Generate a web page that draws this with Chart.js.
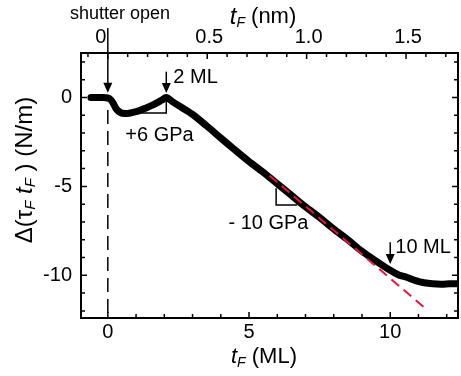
<!DOCTYPE html>
<html>
<head>
<meta charset="utf-8">
<script src="https://cdn.jsdelivr.net/npm/chart.js@4.4.0/dist/chart.umd.min.js"></script>
<style>
  html, body { margin: 0; padding: 0; background: #fff; }
  #wrap { width: 461px; height: 376px; }
</style>
</head>
<body>
<div id="wrap"><canvas id="stressChart"></canvas></div>
<script>
// ===== Datos =====
// espesor de la película (ML) y Δ(τF·tF) en N/m
const tfML = [-0.6, -0.4, -0.2, 0, 0.1, 0.2, 0.3, 0.45, 0.6, 0.8, 1.0, 1.15, 1.3, 1.6, 1.9, 2.07,
    2.3, 2.6, 3.0, 3.5, 4.0, 4.5, 5.0, 5.5, 6.0, 6.5, 7.0, 7.5, 8.0, 8.5, 9.0, 9.5,
    10.0, 10.3, 10.6, 10.9, 11.2, 11.5, 11.8, 12.1, 12.4];
const stressNm = [0, 0, 0, -0.03, -0.12, -0.35, -0.65, -0.85, -0.9, -0.87, -0.8, -0.72, -0.62, -0.42, -0.16, 0,
    -0.25, -0.55, -0.95, -1.6, -2.28, -2.95, -3.6, -4.2, -4.85, -5.5, -6.15, -6.75, -7.4, -8.0, -8.65, -9.2,
    -9.72, -9.98, -10.12, -10.3, -10.42, -10.48, -10.5, -10.48, -10.47];

// ajuste lineal (-10 GPa)
const fitX = [5.73, 11.2];
const fitY = [-4.4, -11.8];

// ejes
const xMajor = [0, 5, 10];
const xLabels = ['0', '5', '10'];
const yMajor = [0, -5, -10];
const yLabels = ['0', '-5', '-10'];
const nmMajor = [0, 0.5, 1.0, 1.5];
const nmLabels = ['0', '0.5', '1.0', '1.5'];
const mlPerNm = 7.04;

const FONT = 'Arial, "Liberation Sans", sans-serif';

// ===== Plugin: marco, ticks hacia adentro, textos y flechas =====
function drawRich(ctx, parts, x, y) {
    let total = 0;
    parts.forEach(p => { ctx.font = p[1]; total += ctx.measureText(p[0]).width; });
    let cx = x - total / 2;
    ctx.textAlign = 'left';
    ctx.textBaseline = 'middle';
    parts.forEach(p => {
        ctx.font = p[1];
        ctx.fillText(p[0], cx, y + (p[2] || 0));
        cx += ctx.measureText(p[0]).width;
    });
}

function arrow(ctx, x, y1, y2) {
    ctx.beginPath();
    ctx.moveTo(x, y1);
    ctx.lineTo(x, y2 - 8);
    ctx.stroke();
    ctx.beginPath();
    ctx.moveTo(x - 4.5, y2 - 10);
    ctx.lineTo(x + 4.5, y2 - 10);
    ctx.lineTo(x, y2);
    ctx.closePath();
    ctx.fill();
}

const framePlugin = {
    id: 'frame',
    afterDatasetsDraw(chart) {
        const { ctx, chartArea: a, scales: { x, y } } = chart;
        const px = v => x.getPixelForValue(v);
        const py = v => y.getPixelForValue(v);
        ctx.save();
        ctx.strokeStyle = '#000';
        ctx.fillStyle = '#000';

        // línea punteada en x = 0
        ctx.lineWidth = 1.5;
        ctx.setLineDash([14, 7]);
        ctx.beginPath();
        ctx.moveTo(px(0), py(-0.7));
        ctx.lineTo(px(0), a.bottom);
        ctx.stroke();
        ctx.setLineDash([]);

        // flechas
        arrow(ctx, px(0), py(3.9), py(0.27));
        arrow(ctx, px(2.07), py(1.45), py(0.25));
        arrow(ctx, px(10.0), py(-8.14), py(-9.36));

        // triángulos de pendiente
        ctx.lineWidth = 1.5;
        ctx.beginPath();
        ctx.moveTo(px(1.15), py(-0.88));
        ctx.lineTo(px(2.07), py(-0.88));
        ctx.lineTo(px(2.07), py(0));
        ctx.stroke();
        ctx.beginPath();
        ctx.moveTo(px(5.96), py(-5.1));
        ctx.lineTo(px(5.96), py(-6.05));
        ctx.lineTo(px(6.7), py(-6.05));
        ctx.stroke();

        // marco
        ctx.lineWidth = 2;
        ctx.strokeRect(a.left, a.top, a.right - a.left, a.bottom - a.top);

        // ticks hacia adentro
        ctx.lineWidth = 1.5;
        ctx.beginPath();
        for (let v = 0; v <= 12; v++) {
            const len = v % 5 === 0 ? 6 : 4;
            ctx.moveTo(px(v), a.bottom); ctx.lineTo(px(v), a.bottom - len);
        }
        for (let v = -12; v <= 2; v++) {
            const len = v % 5 === 0 ? 6 : 4;
            ctx.moveTo(a.left, py(v)); ctx.lineTo(a.left + len, py(v));
            ctx.moveTo(a.right, py(v)); ctx.lineTo(a.right - len, py(v));
        }
        for (let k = -1; k <= 17; k++) {
            const len = k % 5 === 0 ? 6 : 4;
            const xp = px(k * 0.1 * mlPerNm);
            if (xp < a.left || xp > a.right) continue;
            ctx.moveTo(xp, a.top); ctx.lineTo(xp, a.top + len);
        }
        ctx.stroke();

        // etiquetas de ticks
        ctx.font = '20px ' + FONT;
        ctx.textBaseline = 'middle';
        ctx.textAlign = 'center';
        xMajor.forEach((v, i) => ctx.fillText(xLabels[i], px(v), a.bottom + 14));
        nmMajor.forEach((v, i) => {
            const off = v === 0 ? -7 : 2;
            ctx.fillText(nmLabels[i], px(v * mlPerNm) + off, a.top - 16);
        });
        ctx.textAlign = 'right';
        yMajor.forEach((v, i) => ctx.fillText(yLabels[i], a.left - 9, py(v)));

        // títulos de ejes
        const it = 'italic 22px ' + FONT;
        const sub = 'italic 14px ' + FONT;
        const reg = '22px ' + FONT;
        drawRich(ctx, [['t', it], ['F', sub, 6], [' (ML)', reg]], 264, 357);
        drawRich(ctx, [['t', 'italic 24px ' + FONT], ['F', sub, 6], [' (nm)', reg]], 263, 17);

        ctx.save();
        ctx.translate(25, 170);
        ctx.rotate(-Math.PI / 2);
        const big = '24px ' + FONT;
        drawRich(ctx, [['Δ(', big], ['τ', big], ['F', 'italic 15px ' + FONT, 6], [' ', big],
            ['t', 'italic 24px ' + FONT], ['F', 'italic 15px ' + FONT, 6], [' ) (N/m)', big]], 0, 0);
        ctx.restore();

        // anotaciones
        ctx.font = '18px ' + FONT;
        ctx.textAlign = 'left';
        ctx.fillText('shutter open', 70, 14);
        ctx.font = '20px ' + FONT;
        ctx.fillText('2 ML', px(2.32), py(1.1));
        ctx.fillText('+6 GPa', px(0.62), py(-2.12));
        ctx.fillText('- 10 GPa', px(4.27), py(-7.08));
        ctx.fillText('10 ML', px(10.18), py(-8.42));

        ctx.restore();
    }
};

const curve = tfML.map((v, i) => ({ x: v, y: stressNm[i] }));
const fit = fitX.map((v, i) => ({ x: v, y: fitY[i] }));

new Chart(document.getElementById('stressChart'), {
    type: 'scatter',
    data: {
        datasets: [{
            data: fit,
            showLine: true,
            borderColor: '#e3173e',
            borderWidth: 2,
            borderDash: [10, 6],
            pointRadius: 0
        }, {
            data: curve,
            showLine: true,
            borderColor: '#000',
            borderWidth: 7,
            borderJoinStyle: 'round',
            borderCapStyle: 'round',
            tension: 0.3,
            pointRadius: 0
        }]
    },
    options: {
        responsive: true,
        maintainAspectRatio: false,
        animation: false,
        layout: { padding: { left: 81, right: 3, top: 53, bottom: 58 } },
        plugins: {
            legend: { display: false },
            tooltip: { enabled: false }
        },
        scales: {
            x: { type: 'linear', min: -0.95, max: 12.4, display: false },
            y: { type: 'linear', min: -12.4, max: 2.5, display: false }
        }
    },
    plugins: [framePlugin]
});
</script>
</body>
</html>
